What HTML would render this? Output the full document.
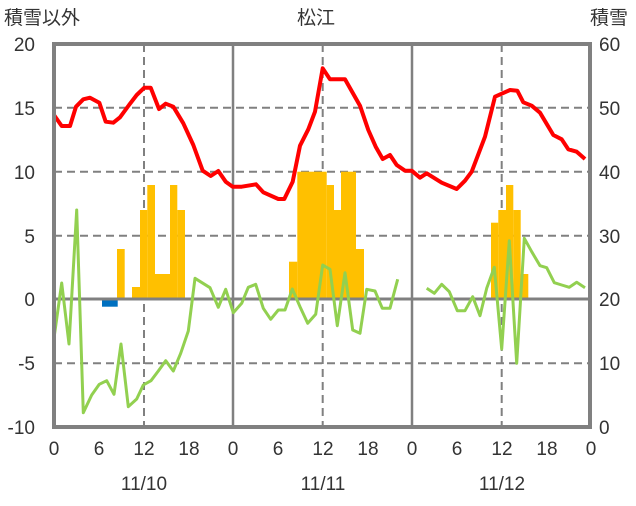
<!DOCTYPE html>
<html><head><meta charset="utf-8"><style>
body{margin:0;background:#fff;}
svg text{font-family:"Liberation Sans","Noto Sans CJK JP",sans-serif;font-size:19px;fill:#333;}
</style></head><body>
<svg width="636" height="501" viewBox="0 0 636 501" xmlns="http://www.w3.org/2000/svg">
<rect width="636" height="501" fill="#fff"/>
<g stroke="#808080" stroke-width="2" stroke-dasharray="8,5">
<line x1="54" y1="107.7" x2="590" y2="107.7"/>
<line x1="54" y1="171.7" x2="590" y2="171.7"/>
<line x1="54" y1="235.7" x2="590" y2="235.7"/>
<line x1="54" y1="363.3" x2="590" y2="363.3"/>
<line x1="144" y1="44" x2="144" y2="427"/>
<line x1="322.7" y1="44" x2="322.7" y2="427"/>
<line x1="501.7" y1="44" x2="501.7" y2="427"/>
</g>
<g stroke="#808080" stroke-width="2.5">
<line x1="233" y1="44" x2="233" y2="427"/>
<line x1="412" y1="44" x2="412" y2="427"/>
</g>
<g fill="#FFC000">
<rect x="117" y="249" width="7.7" height="50"/>
<rect x="132" y="287" width="8" height="12"/>
<rect x="140" y="210" width="7.3" height="89"/>
<rect x="147.3" y="185" width="7.7" height="114"/>
<rect x="155" y="274" width="15" height="25"/>
<rect x="170" y="185" width="7.3" height="114"/>
<rect x="177.3" y="210" width="7.7" height="89"/>
<rect x="289" y="261.7" width="8.3" height="37.3"/>
<rect x="297.3" y="171.7" width="29.4" height="127.3"/>
<rect x="326.7" y="185" width="7.3" height="114"/>
<rect x="334" y="210" width="7" height="89"/>
<rect x="341" y="171.7" width="15" height="127.3"/>
<rect x="356" y="249" width="8" height="50"/>
<rect x="491" y="222.7" width="7.3" height="76.3"/>
<rect x="498.3" y="210" width="7.7" height="89"/>
<rect x="506" y="185" width="7.3" height="114"/>
<rect x="513.3" y="210" width="7.4" height="89"/>
<rect x="520.7" y="274" width="7.6" height="25"/>
</g>
<rect x="102" y="299" width="15.7" height="7.7" fill="#0070C0"/>
<line x1="54" y1="299" x2="590" y2="299" stroke="#808080" stroke-width="3"/>
<g fill="none" stroke="#92D050" stroke-width="3" stroke-linejoin="round">
<polyline points="54,338 61.7,283 69,344 76.7,210 83.3,412.7 91.7,395 99.3,384.3 106.7,380.7 114,394.3 121,344 128.3,406.7 136.7,399 143.3,385 151,380.7 158.3,371 165.7,360.7 173.3,371 180.7,353.3 188.3,331 195,278.3 210,287.7 218.3,307.3 225.7,289.3 233.3,312.7 241.7,303.3 248.3,287.3 255.7,284.3 263.3,308.3 270.7,319.3 278.3,310 285,310 292.3,289 300,306.7 307.7,323.3 315.7,314.3 322.7,265 330,269.3 337.3,325.7 345,272.7 352.7,330 360,333.3 366.7,289.3 375,291 382.3,308.3 390,308.3 397.7,279.3"/>
<polyline points="426.7,288.3 434.3,293.3 441.7,284.3 449.3,291.7 457.3,310.7 465,310.7 472.7,296.7 480,315.7 486.7,288.3 494.3,267.3 501.7,349 509.3,240.7 516.7,363.3 524.3,238.3 531.7,251.7 540,265.7 546.7,267.7 554.3,282.7 561.7,285 569.3,287.3 576.7,282.3 585,287.7"/>
</g>
<polyline fill="none" stroke="#FF0000" stroke-width="4" stroke-linejoin="round" points="54,115 61.7,126 70,126 76,106.7 83.3,99.3 90,97.7 99.3,102.7 105.7,121.7 113.3,122.7 120,117.3 128.3,106 136.7,95 144.3,87.7 150.7,87.7 159,109 165.7,103.7 173.3,106.7 183.3,123.3 193.3,145 202.7,170.7 210.7,176 218.3,171 225.7,181.7 232.7,186.7 241.7,186.7 256,184.3 263.3,192.3 278.3,199 284.3,199 292.7,181.7 300,145.7 308.3,129.3 315,111.7 322.7,68.3 330,79.3 345,79.3 360,105.7 368.3,130 375.7,146.7 382.7,159 390,155 396.7,165 405,170.7 411.7,170.7 420,177.7 426.7,173.3 441.7,182.7 456.7,189 465,180.7 471.7,171.7 485,136.7 495,96.7 510,90 517.3,90.7 523.3,102.3 531.7,105.7 540,112.7 553.3,135 561.7,139.3 568.3,149.3 576.7,151.7 585,159"/>
<rect x="54" y="44" width="536" height="383" fill="none" stroke="#808080" stroke-width="4"/>
<g text-anchor="end">
<text x="35" y="51">20</text><text x="35" y="115">15</text><text x="35" y="179">10</text>
<text x="35" y="243">5</text><text x="35" y="306">0</text><text x="35" y="370">-5</text><text x="35" y="434">-10</text>
</g>
<g text-anchor="start">
<text x="599" y="51">60</text><text x="599" y="115">50</text><text x="599" y="179">40</text>
<text x="599" y="243">30</text><text x="599" y="306">20</text><text x="599" y="370">10</text><text x="599" y="434">0</text>
</g>
<g text-anchor="middle">
<text x="54" y="455">0</text><text x="99" y="455">6</text><text x="144" y="455">12</text><text x="189" y="455">18</text>
<text x="233" y="455">0</text><text x="278" y="455">6</text><text x="323" y="455">12</text><text x="368" y="455">18</text>
<text x="412" y="455">0</text><text x="457" y="455">6</text><text x="502" y="455">12</text><text x="547" y="455">18</text>
<text x="591" y="455">0</text>
<text x="144" y="490">11/10</text><text x="323" y="490">11/11</text><text x="502" y="490">11/12</text>
<text x="316" y="24">松江</text>
</g>
<text x="4" y="24">積雪以外</text>
<text x="590" y="24">積雪</text>
</svg>
</body></html>
